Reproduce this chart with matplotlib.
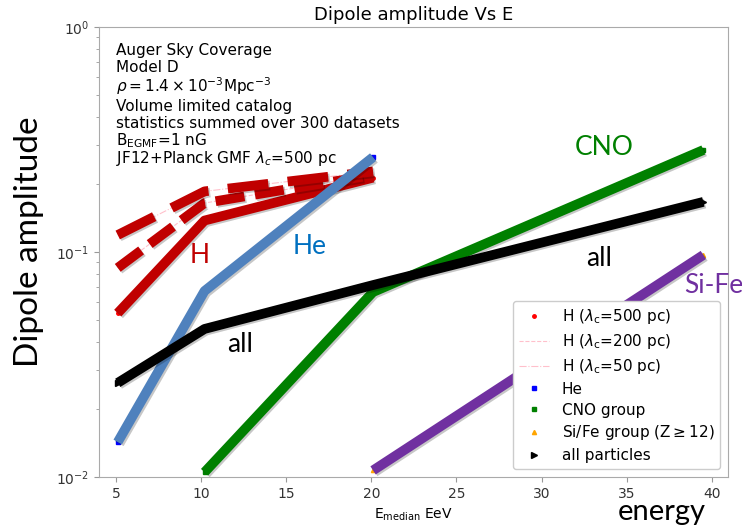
import numpy as np
import matplotlib
matplotlib.use("Agg")
import matplotlib.pyplot as plt
import matplotlib.patheffects as pe

# median energies (EeV) of the four bins
energy = [5.1, 10.2, 20.1, 39.5]

# dipole amplitudes
h_500 = [0.0535, 0.138, 0.214]
h_200 = [0.085, 0.165, 0.220]
h_50 = [0.119, 0.186, 0.228]
he = [0.0143, 0.0671, 0.264]
cno = [0.0105, 0.0664, 0.284]
sife = [0.0107, 0.097]
allp = [0.0262, 0.0455, 0.0713, 0.167]

info_lines = [
    "Auger Sky Coverage",
    "Model D",
    r"$\rho=1.4\times10^{-3}$Mpc$^{-3}$",
    "Volume limited catalog",
    "statistics summed over 300 datasets",
    r"B$_{\rm EGMF}$=1 nG",
    r"JF12+Planck GMF $\lambda_c$=500 pc",
]
# baselines of the info lines, pixels from the top of the figure
info_baselines = [55, 72, 92, 111, 128, 145, 163]

RED = "#c00000"
BLUE = "#4f81bd"
GREEN = "#008000"
PURPLE = "#7030a0"
SLIDE_FONT = "Lato"

W, H = 742, 526
fig = plt.figure(figsize=(W / 100, H / 100), dpi=100)
ax = fig.add_axes([99 / W, 1 - 477 / H, (728 - 99) / W, (477 - 27) / H])

# thin original curves + markers (these are what the legend describes)
ax.plot(energy[:3], h_500, ".", color="red", ms=5, label=r"H ($\lambda_{\rm c}$=500 pc)")
ax.plot(energy[:3], h_200, "--", color="pink", lw=0.8, label=r"H ($\lambda_{\rm c}$=200 pc)")
ax.plot(energy[:3], h_50, "-.", color="pink", lw=0.8, label=r"H ($\lambda_{\rm c}$=50 pc)")
ax.plot(energy[:3], he, "s", color="blue", ms=2.5, label="He")
ax.plot(energy[1:], cno, "s", color="green", ms=2.5, label="CNO group")
ax.plot(energy[2:], sife, "^", color="orange", ms=3, label=r"Si/Fe group (Z$\geq$12)")
ax.plot(energy[2:], sife, "-", color="orange", lw=0.6, alpha=0.6)
ax.plot(energy, allp, ">", color="black", ms=5, label="all particles")

# thick highlight lines drawn over the plot
shadow = [pe.SimpleLineShadow(offset=(1.2, -1.2), alpha=0.22), pe.Normal()]
thick = dict(lw=7, path_effects=shadow, zorder=3)
ax.plot(energy[:3], h_500, "-", color=RED, solid_capstyle="butt", **thick)
ax.plot(energy[:3], h_200, color=RED, dashes=(3.0, 1.1), **thick)
ax.plot(energy[:3], h_50, color=RED, dashes=(4.2, 2.0), **thick)
ax.plot(energy[:3], he, "-", color=BLUE, solid_capstyle="butt", **thick)
ax.plot(energy[1:], cno, "-", color=GREEN, solid_capstyle="butt", **thick)
ax.plot(energy[2:], sife, "-", color=PURPLE, solid_capstyle="butt", **thick)
ax.plot(energy, allp, "-", color="black", solid_capstyle="butt", **thick)

ax.set_yscale("log")
ax.set_xlim(4.0, 40.95)
ax.set_ylim(1e-2, 1)
ax.set_xticks([5, 10, 15, 20, 25, 30, 35, 40])
ax.set_title("Dipole amplitude Vs E", fontsize=13, pad=5)
ax.set_xlabel(r"E$_{\rm median}$ EeV", fontsize=10)
ax.tick_params(labelsize=10, colors="#333333", which="both")
ax.tick_params(which="both", color="#999999")
for sp in ax.spines.values():
    sp.set_color("#aaaaaa")

for line, yb in zip(info_lines, info_baselines):
    fig.text(116 / W, 1 - yb / H, line, fontsize=11, va="baseline", ha="left")

leg = ax.legend(loc="lower right", fontsize=11, labelspacing=0.38,
                handlelength=2.0, framealpha=1.0)
leg.set_zorder(7)

# hand-placed slide labels
label_kw = dict(fontsize=19, family=SLIDE_FONT, ha="center", va="center")
ax.text(9.93, 0.096, "H", color=RED, **label_kw)
ax.text(16.4, 0.106, "He", color="#0070c0", **label_kw)
ax.text(33.7, 0.29, "CNO", color=GREEN, **label_kw)
ax.text(33.4, 0.094, "all", color="black", **label_kw)
ax.text(12.3, 0.039, "all", color="black", **label_kw)
ax.text(38.4, 0.0713, "Si-Fe", color=PURPLE, fontsize=19, family=SLIDE_FONT,
        ha="left", va="center", clip_on=False, zorder=9)

fig.text(29 / W, 1 - 242 / H, "Dipole amplitude", rotation=90,
         fontsize=24, family=SLIDE_FONT, ha="center", va="center")
fig.text(662 / W, 1 - 512 / H, "energy", fontsize=21, family=SLIDE_FONT,
         ha="center", va="center")

fig.savefig("out.png", dpi=100)
